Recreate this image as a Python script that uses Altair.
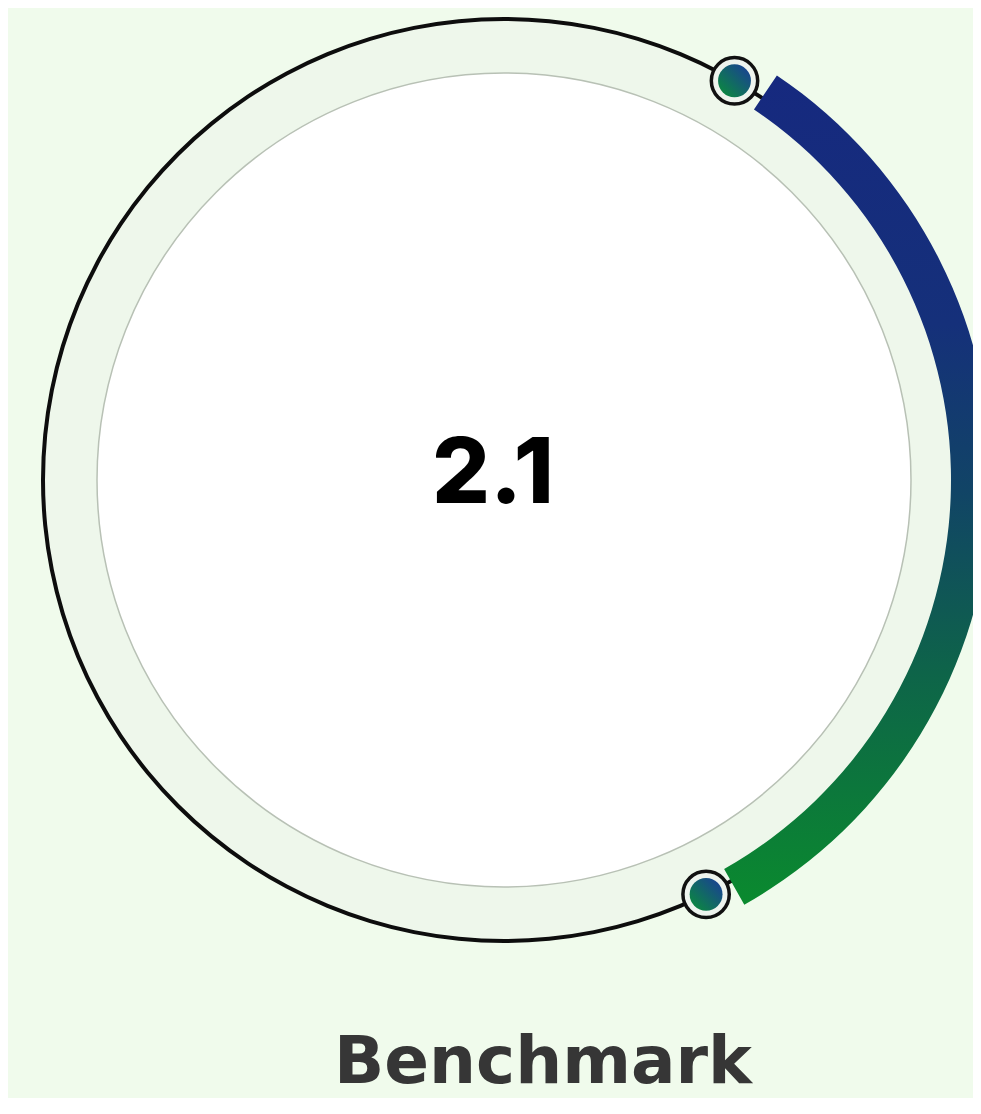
import math
import altair as alt
import pandas as pd

# ---- data ----
gauge_value = [2.1]
gauge_label = ["Benchmark"]
band_start_deg = [34.0]     # start of coloured band (clockwise from 12 o'clock)
band_end_deg = [150.5]      # end of coloured band
marker_deg = [30.0, 154.0]  # end markers on the track

# ---- layout constants (pixels) ----
W, H = 965, 1090
CX, CY = 496, 472
R_DISC = 407
R_TRACK_OUT = 461
R_LINE_IN, R_LINE_OUT = 459, 463
R_BAND_IN, R_BAND_OUT = 447, 488

theta_scale = alt.Scale(domain=[0, 360], range=[0, 2 * math.pi])

full = pd.DataFrame({"a0": [0.0], "a1": [360.0]})
band = pd.DataFrame({"a0": band_start_deg, "a1": band_end_deg})
markers = pd.DataFrame({"deg": marker_deg})
center_txt = pd.DataFrame({"v": gauge_value})
label_txt = pd.DataFrame({"t": gauge_label})


def ring(df, r_out, r_in, **mark):
    return alt.Chart(df).mark_arc(**mark).encode(
        theta=alt.Theta("a0:Q", scale=theta_scale, stack=None),
        theta2="a1:Q",
        x=alt.value(CX), y=alt.value(CY),
        radius=alt.value(r_out), radius2=alt.value(r_in),
    )


track = ring(full, R_TRACK_OUT, R_DISC, fill="#eef7eb")
line = ring(full, R_LINE_OUT, R_LINE_IN, fill="#0d0d0d")
disc = ring(full, R_DISC, 0, fill="#ffffff", stroke="#b8c1b5", strokeWidth=1.5)

band_grad = alt.LinearGradient(
    gradient="linear",
    stops=[
        alt.GradientStop(offset=0.0, color="#16297f"),
        alt.GradientStop(offset=0.3, color="#15307a"),
        alt.GradientStop(offset=0.5, color="#114466"),
        alt.GradientStop(offset=0.72, color="#0e6449"),
        alt.GradientStop(offset=1.0, color="#0a8a2e"),
    ],
    x1=0, y1=0, x2=0, y2=1,
)
band_arc = ring(band, R_BAND_OUT, R_BAND_IN, fill=band_grad)

mk = alt.Chart(markers).transform_calculate(
    mx=f"{CX} + {R_TRACK_OUT} * sin(datum.deg * PI / 180)",
    my=f"{CY} - {R_TRACK_OUT} * cos(datum.deg * PI / 180)",
)
mk_enc = dict(
    x=alt.X("mx:Q", scale=None, axis=None),
    y=alt.Y("my:Q", scale=None, axis=None),
)
marker_ring = mk.mark_point(
    shape="circle", size=2150, filled=False, fill="#eef4ee", fillOpacity=1,
    stroke="#111111", strokeWidth=3.5, opacity=1,
).encode(**mk_enc)

dot_grad = alt.LinearGradient(
    gradient="linear",
    stops=[
        alt.GradientStop(offset=0.0, color="#0a9036"),
        alt.GradientStop(offset=1.0, color="#1b3a9c"),
    ],
    x1=0, y1=1, x2=1, y2=0,
)
marker_dot = mk.mark_point(
    shape="circle", size=1080, filled=True, fill=dot_grad, opacity=1, strokeWidth=0,
).encode(**mk_enc)

value_text = alt.Chart(center_txt).mark_text(
    font="Inter", fontWeight=800, fontSize=91, color="#000000",
    align="center", baseline="alphabetic",
).encode(x=alt.value(485), y=alt.value(495), text=alt.Text("v:Q", format=".1f"))

label_text = alt.Chart(label_txt).mark_text(
    font="DejaVu Sans", fontWeight="bold", fontSize=66, color="#363636",
    align="center", baseline="alphabetic",
).encode(x=alt.value(535), y=alt.value(1075), text="t:N")

chart = alt.layer(
    track, line, disc, band_arc, marker_ring, marker_dot, value_text, label_text
).properties(
    width=W, height=H,
    autosize=alt.AutoSizeParams(type="none"),
    padding=0,
    background="#f0fbec",
).configure_view(stroke=None)

chart.save("out.html", embed_options={"renderer": "svg", "actions": False})
